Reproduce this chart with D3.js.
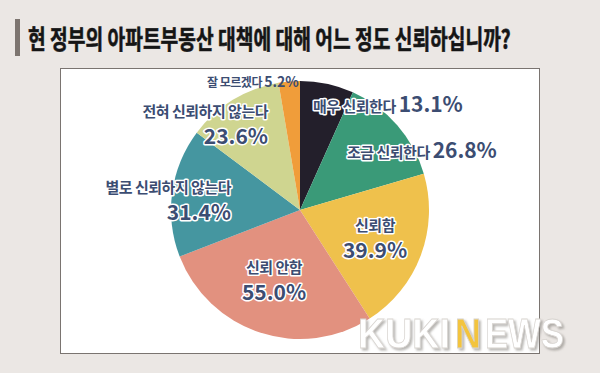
<!DOCTYPE html>
<html>
<head>
<meta charset="utf-8">
<script src="https://cdn.jsdelivr.net/npm/d3@7"></script>
<style>
  html, body { margin: 0; padding: 0; background: #ebe7e4; }
  svg { display: block; font-family: "Noto Sans CJK KR", sans-serif; }
</style>
</head>
<body>
<div id="chart"></div>
<script>
// 원본 그래프의 데이터 (합계 항목까지 한 원에 그려져 있음)
const labels = ['매우 신뢰한다', '조금 신뢰한다', '신뢰함', '신뢰 안함', '별로 신뢰하지 않는다', '전혀 신뢰하지 않는다', '잘 모르겠다'];
const values = [13.1, 26.8, 39.9, 55.0, 31.4, 23.6, 5.2];
const colors = ['#231f2b', '#3a9a78', '#efc14c', '#e2917f', '#4596a0', '#cfd590', '#f09d3a'];
const titleText = '현 정부의 아파트부동산 대책에 대해 어느 정도 신뢰하십니까?';
const watermark = [
    { text: 'KUKI', x: 358, w: 92, fill: '#ffffff' },
    { text: 'N', x: 455, w: 26, fill: '#f3c43e' },
    { text: 'EWS', x: 485, w: 79, fill: '#ffffff' }
];

const width = 600, height = 373;
const cx = 300, cy = 210, radius = 129;

const svg = d3.select('#chart').append('svg')
    .attr('width', width)
    .attr('height', height);

// 그림자 필터 (워터마크용)
const defs = svg.append('defs');
defs.append('filter').attr('id', 'wmShadow')
    .attr('x', '-10%').attr('y', '-10%').attr('width', '130%').attr('height', '130%')
    .append('feDropShadow')
    .attr('dx', 2).attr('dy', 2).attr('stdDeviation', 1)
    .attr('flood-color', '#8a8682').attr('flood-opacity', 0.6);

// 배경
svg.append('rect').attr('width', width).attr('height', height).attr('fill', '#ebe7e4');

// 제목 (가로로 눌린 굵은 글꼴 흉내)
svg.append('rect').attr('x', 15).attr('y', 19).attr('width', 5).attr('height', 37).attr('fill', '#7d7570');
const titleScale = 0.74;
svg.append('g')
    .attr('transform', `translate(28,49) scale(${titleScale},1)`)
    .append('text')
    .style('font-size', '26px').style('font-weight', 700).style('fill', '#151515')
    .style('stroke', '#151515').style('stroke-width', 0.6)
    .text(titleText);

// 흰색 패널
svg.append('rect')
    .attr('x', 60.5).attr('y', 68.5).attr('width', 479).attr('height', 285)
    .attr('fill', '#ffffff').attr('stroke', '#7a7470').attr('stroke-width', 1);

// 파이
const pie = d3.pie().sort(null).value(d => d);
const arc = d3.arc().innerRadius(0).outerRadius(radius);

const g = svg.append('g').attr('transform', `translate(${cx},${cy})`);
g.selectAll('path')
    .data(pie(values))
    .join('path')
    .attr('d', arc)
    .attr('fill', (d, i) => colors[i]);

// 라벨 위치 (원본 위치에 맞춤)
const labelPos = [
    { x: 313, y: 112, inline: true, small: 15, big: 21 },
    { x: 347, y: 158, inline: true, small: 15, big: 21 },
    { x: 375, y: 231, y2: 258, anchor: 'middle' },
    { x: 274, y: 273, y2: 300, anchor: 'middle' },
    { x: 231, y: 193, y2: 220, anchor: 'end' },
    { x: 268, y: 117, y2: 144, anchor: 'end' },
    { x: 207, y: 87, inline: true, small: 12, big: 14, plain: true }
];

const ink = '#3c4d72';

function outline(sel) {
    return sel.style('fill', ink)
        .style('stroke', '#ffffff').style('stroke-width', 3)
        .style('stroke-linejoin', 'round').style('paint-order', 'stroke');
}

labels.forEach((name, i) => {
    const p = labelPos[i];
    const pct = values[i].toFixed(1) + '%';
    if (p.inline) {
        const t = svg.append('text')
            .attr('x', p.x).attr('y', p.y)
            .style('font-weight', 700);
        t.append('tspan').style('font-size', p.small + 'px').style('letter-spacing', '-0.5px').text(name + ' ');
        t.append('tspan').style('font-size', p.big + 'px').text(pct);
        if (p.plain) {
            t.style('fill', ink);
        } else {
            outline(t);
        }
    } else {
        outline(svg.append('text')
            .attr('x', p.x).attr('y', p.y)
            .attr('text-anchor', p.anchor)
            .style('font-size', '15px').style('font-weight', 700)
            .style('letter-spacing', '-0.5px')
            .text(name));
        outline(svg.append('text')
            .attr('x', p.x).attr('y', p.y2)
            .attr('text-anchor', p.anchor)
            .style('font-size', '21px').style('font-weight', 700)
            .text(pct));
    }
});

// 워터마크 (글자 폭을 재서 가로로 눌러 맞춤)
svg.append('g').attr('filter', 'url(#wmShadow)')
    .selectAll('text')
    .data(watermark)
    .join('text')
    .style('font-family', '"Liberation Sans", Arial, sans-serif')
    .style('font-size', '42px').style('font-weight', 700)
    .style('fill', d => d.fill)
    .style('stroke', '#d8d4d0').style('stroke-width', 0.8)
    .text(d => d.text)
    .attr('transform', function(d) {
        const natural = this.getComputedTextLength();
        return `translate(${d.x},348) scale(${d.w / natural},1)`;
    });
</script>
</body>
</html>
